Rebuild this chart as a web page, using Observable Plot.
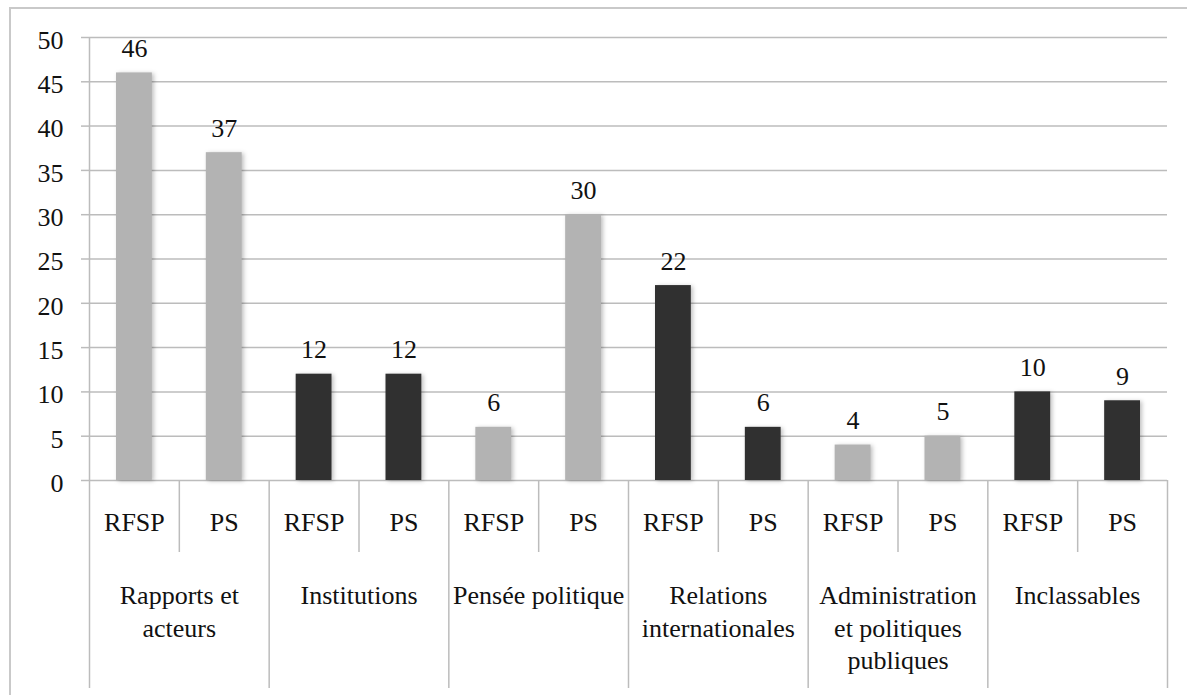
<!DOCTYPE html>
<html>
<head>
<meta charset="utf-8">
<script src="https://cdn.jsdelivr.net/npm/d3@7"></script>
<script src="https://cdn.jsdelivr.net/npm/@observablehq/plot@0.6"></script>
<style>
  html, body { margin: 0; padding: 0; background: #fff; overflow: hidden; }
  #wrap { position: relative; width: 1187px; height: 695px; }
  #border { position: absolute; left: 9px; top: 7px; width: 1300px; height: 800px;
            border-left: 2px solid #c9c9c9; border-top: 2px solid #c9c9c9; }
  #chart { position: absolute; left: 0; top: 0; }
</style>
</head>
<body>
<div id="wrap"><div id="border"></div><div id="chart"></div></div>
<script>
const categories = ["Rapports et\nacteurs", "Institutions", "Pensée politique", "Relations\ninternationales", "Administration\net politiques\npubliques", "Inclassables"];
const series = ["RFSP", "PS"];
const rfspValues = [46, 12, 6, 22, 4, 10];
const psValues = [37, 12, 30, 6, 5, 9];
const yTicks = [0, 5, 10, 15, 20, 25, 30, 35, 40, 45, 50];

const rows = [];
categories.forEach((c, i) => {
  [rfspValues[i], psValues[i]].forEach((v, j) => {
    rows.push({category: c, series: series[j], value: v, idx: 2 * i + j, shade: i % 2 === 0 ? "light" : "dark"});
  });
});
const n = rows.length;
const subCenters = rows.map(r => r.idx + 0.5);
const subEdges = rows.filter(r => r.idx % 2 === 1).map(r => r.idx);
const catEdges = d3.range(0, n + 1, 2);
const catCenters = categories.map((c, i) => 2 * i + 1);

const gridColor = "#bcbcbc";
const serifFont = "Liberation Serif";
const fs = 26;

const chart = Plot.plot({
  width: 1187,
  height: 695,
  marginLeft: 89,
  marginRight: 20,
  marginTop: 37,
  marginBottom: 215,
  style: {fontSize: "26px", color: "#111", background: "transparent", overflow: "visible"},
  x: {domain: [0, n], label: null},
  y: {domain: [0, 50], label: null},
  color: {domain: ["light", "dark"], range: ["#b3b3b3", "#303030"]},
  marks: [
    Plot.gridY(yTicks, {stroke: gridColor, strokeOpacity: 1, strokeWidth: 1.5}),
    Plot.axisY({ticks: yTicks, label: null, tickSize: 8, tickFormat: () => "", stroke: gridColor, strokeWidth: 1.5}),
    Plot.axisY({ticks: yTicks, label: null, tickSize: 0, tickPadding: 26, fontSize: fs, fontFamily: serifFont, dy: 3}),
    Plot.ruleX([0], {stroke: gridColor, strokeWidth: 1.5}),
    Plot.axisX({ticks: subEdges, label: null, tickSize: 72, tickFormat: () => "", stroke: gridColor, strokeWidth: 1.5}),
    Plot.axisX({ticks: catEdges, label: null, tickSize: 208, tickFormat: () => "", stroke: gridColor, strokeWidth: 1.5}),
    Plot.axisX({ticks: subCenters, label: null, tickSize: 0, tickPadding: 32, tickFormat: d => series[Math.floor(d) % 2], fontSize: fs, fontFamily: serifFont}),
    Plot.axisX({ticks: catCenters, label: null, tickSize: 0, tickPadding: 100, tickFormat: d => categories[(d - 1) / 2], fontSize: fs, lineHeight: 1.26, fontFamily: serifFont}),
    Plot.rectY(rows, {x1: "idx", x2: d => d.idx + 1, y: "value", fill: "shade", insetLeft: 27, insetRight: 27}),
    Plot.text(rows, {x: d => d.idx + 0.5, y: "value", text: d => String(d.value), lineAnchor: "bottom", dy: -16, fontSize: fs, fill: "#111", fontFamily: serifFont})
  ]
});
d3.select(chart).selectAll("g[aria-label='rect']").style("filter", "drop-shadow(2px 1px 2px rgba(0,0,0,0.25))");
document.getElementById("chart").appendChild(chart);
</script>
</body>
</html>
